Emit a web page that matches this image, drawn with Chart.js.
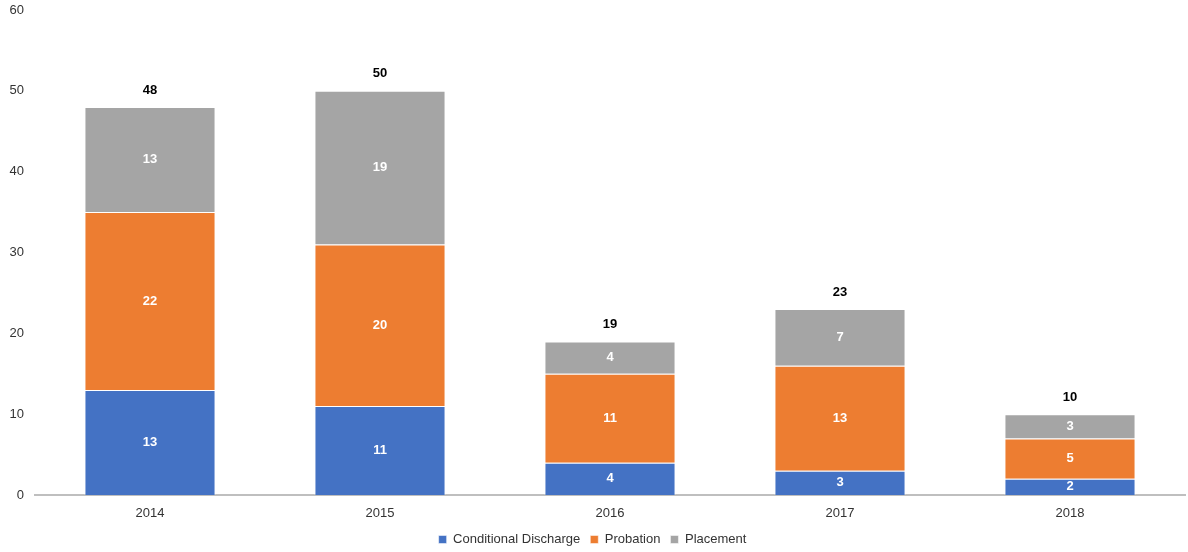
<!DOCTYPE html>
<html>
<head>
<meta charset="utf-8">
<script src="https://cdn.jsdelivr.net/npm/chart.js@4/dist/chart.umd.min.js"></script>
<style>
  html, body { margin: 0; padding: 0; background: #fff; }
  #chart { display: block; }
</style>
</head>
<body>
<canvas id="chart" width="1188" height="552"></canvas>
<script>
const years = ["2014", "2015", "2016", "2017", "2018"]
const conditionalDischarge = [13, 11, 4, 3, 2]
const probation = [22, 20, 11, 13, 5]
const placement = [13, 19, 4, 7, 3]

const fontFamily = "'Liberation Sans', Arial, sans-serif"

// white numbers inside the segments, black totals above each stack
const barLabels = {
    id: "barLabels",
    afterDatasetsDraw(chart) {
        const ctx = chart.ctx
        ctx.save()
        ctx.font = "bold 13px " + fontFamily
        ctx.textAlign = "center"
        ctx.textBaseline = "middle"
        ctx.fillStyle = "#ffffff"
        chart.data.datasets.forEach((ds, i) => {
            chart.getDatasetMeta(i).data.forEach((bar, j) => {
                const { x, y, base } = bar.getProps(["x", "y", "base"], true)
                ctx.fillText(String(ds.data[j]), x, (y + base) / 2)
            })
        })
        ctx.fillStyle = "#000000"
        const last = chart.getDatasetMeta(chart.data.datasets.length - 1)
        last.data.forEach((bar, j) => {
            const total = chart.data.datasets.reduce((s, ds) => s + ds.data[j], 0)
            ctx.fillText(String(total), bar.x, bar.y - 17)
        })
        ctx.restore()
    }
}

const target = document.getElementById("chart")

new Chart(target, {
    type: "bar",
    data: {
        labels: years,
        datasets: [
            { label: "Conditional Discharge", data: conditionalDischarge, backgroundColor: "#4472C4" },
            { label: "Probation", data: probation, backgroundColor: "#ED7D31" },
            { label: "Placement", data: placement, backgroundColor: "#A5A5A5" }
        ].map(d => Object.assign(d, {
            borderColor: "rgba(255,255,255,0.5)",
            borderWidth: 1,
            barPercentage: 0.57,
            categoryPercentage: 1
        }))
    },
    options: {
        responsive: false,
        animation: false,
        layout: { padding: { top: 10, right: 3, bottom: -4, left: 0 } },
        scales: {
            x: {
                stacked: true,
                grid: { display: false, drawTicks: false },
                border: { color: "#BFBFBF", width: 2 },
                ticks: { color: "#333", padding: 11, font: { family: fontFamily, size: 13 } },
                afterFit(scale) { scale.height = 28 }
            },
            y: {
                stacked: true,
                min: 0,
                max: 60,
                grid: { display: false, drawTicks: false },
                border: { display: false },
                ticks: { stepSize: 10, color: "#333", padding: 11, font: { family: fontFamily, size: 13 } },
                afterFit(scale) {
                    scale.width = 35
                    scale.paddingTop = 0
                    scale.paddingBottom = 0
                }
            }
        },
        plugins: {
            legend: {
                position: "bottom",
                labels: {
                    boxWidth: 8,
                    boxHeight: 8,
                    padding: 10,
                    color: "#333",
                    font: { family: fontFamily, size: 13 }
                }
            },
            tooltip: { enabled: false }
        }
    },
    plugins: [barLabels]
})
</script>
</body>
</html>
